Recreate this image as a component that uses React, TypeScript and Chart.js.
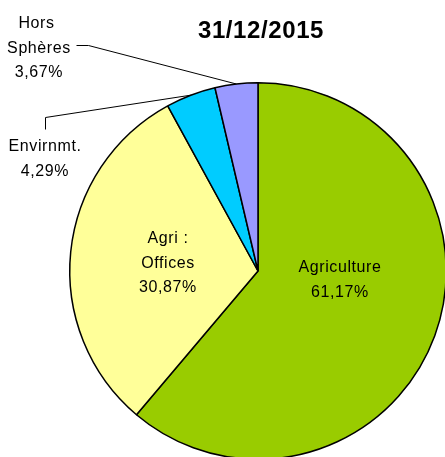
import React, { useEffect, useRef } from "react";
import { Chart, registerables } from "chart.js";

Chart.register(...registerables);

const title = "31/12/2015";
const categories: string[][] = [["Agriculture"], ["Agri :", "Offices"], ["Envirnmt."], ["Hors ", "Sphères"]];
const values = [61.17, 30.87, 4.29, 3.67];
const colors = ["#99CC00", "#FFFF99", "#00CCFF", "#9999FF"];

// label layout (text centre x, first baseline y, optional leader elbow points)
const labelLayout = [
  { x: 340, y: 272, leader: null as null | number[][] },
  { x: 168, y: 243, leader: null as null | number[][] },
  { x: 45, y: 151, leader: [[45, 129], [45, 117]] },
  { x: 39, y: 28, leader: [[76, 45], [88, 45]] },
];

const fmt = (v: number) => v.toFixed(2).replace(".", ",") + "%";

const labelPlugin = {
  id: "excelLabels",
  afterDraw(chart: any) {
    const ctx = chart.ctx as CanvasRenderingContext2D;
    const meta = chart.getDatasetMeta(0);
    ctx.save();
    ctx.fillStyle = "#000";
    ctx.textAlign = "center";
    ctx.textBaseline = "alphabetic";
    // title
    ctx.font = "bold 24px 'Liberation Sans', Arial, sans-serif";
    (ctx as any).letterSpacing = "0.6px";
    ctx.fillText(title, 261, 38);
    // labels
    ctx.font = "16px 'Liberation Sans', Arial, sans-serif";
    (ctx as any).letterSpacing = "0.6px";
    meta.data.forEach((arc: any, i: number) => {
      const lay = labelLayout[i];
      const lines = [...categories[i], fmt(values[i])];
      lines.forEach((t, j) => ctx.fillText(t, lay.x, lay.y + j * 24.5));
      if (lay.leader) {
        const p = arc.getProps(["x", "y", "startAngle", "endAngle", "outerRadius"], true);
        const mid = (p.startAngle + p.endAngle) / 2;
        const ax = p.x + Math.cos(mid) * p.outerRadius;
        const ay = p.y + Math.sin(mid) * p.outerRadius;
        ctx.beginPath();
        ctx.strokeStyle = "#000";
        ctx.lineWidth = 1;
        ctx.moveTo(lay.leader[0][0] + 0.5, lay.leader[0][1] + 0.5);
        for (let k = 1; k < lay.leader.length; k++) ctx.lineTo(lay.leader[k][0] + 0.5, lay.leader[k][1] + 0.5);
        ctx.lineTo(ax, ay);
        ctx.stroke();
      }
    });
    ctx.restore();
  },
};

export default function App() {
  const ref = useRef<HTMLCanvasElement>(null);
  useEffect(() => {
    const chart = new Chart(ref.current!, {
      type: "pie",
      data: {
        labels: categories.map((c) => c.join(" ")),
        datasets: [
          {
            data: values,
            backgroundColor: colors,
            borderColor: "#000",
            borderWidth: 1.5,
          },
        ],
      },
      options: {
        responsive: false,
        animation: false,
        layout: { padding: { left: 69, right: 13, top: 82, bottom: 10 } },
        plugins: { legend: { display: false }, tooltip: { enabled: false }, title: { display: false } },
      },
      plugins: [labelPlugin],
    });
    return () => chart.destroy();
  }, []);
  return (
    <div style={{ position: "absolute", left: 0, top: 0, width: 445, height: 457, overflow: "hidden", background: "#fff" }}>
      <canvas ref={ref} width={460} height={470} style={{ width: 460, height: 470, display: "block" }} />
    </div>
  );
}
